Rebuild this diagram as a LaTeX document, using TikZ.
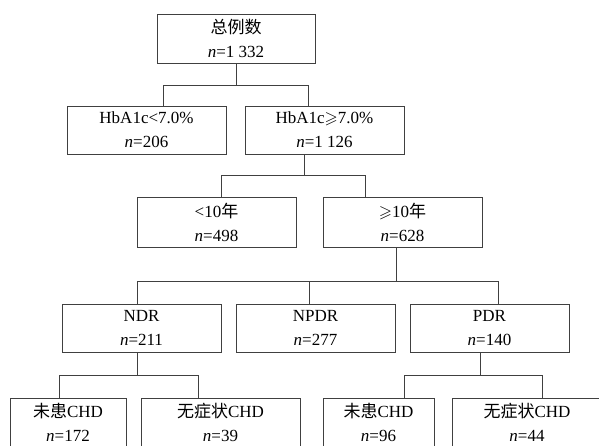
\documentclass[tikz,border=0pt]{standalone}
\usepackage{amsmath, amssymb}
\usepackage{fontspec}
\setmainfont{Liberation Serif}
\newfontfamily\cjk{Noto Sans CJK SC}
\usetikzlibrary{positioning, calc}

\begin{document}
\begin{tikzpicture}[
      x=1pt, y=-1pt,
      block/.style={rectangle, draw=black!75, line width=1pt,
                    minimum width=159pt, minimum height=48pt, inner sep=0pt,
                    align=center, font=\fontsize{17}{24}\selectfont},
      link/.style={draw=black!75, line width=1pt}
    ]
        \useasboundingbox (0,0) rectangle (599,445);
        \clip (0,0) rectangle (599,445);
        \node[block, minimum width=158pt, minimum height=49pt] (total) at (236,38.5) {{\cjk 总例数}\\\textit{n}=1 332};
        \node[block] (hblow) at (146.5,130) {HbA1c<7.0\%\\\textit{n}=206};
        \node[block] (hbhigh) at (324.5,130) {HbA1c$\geqslant$7.0\%\\\textit{n}=1 126};
        \node[block, minimum height=50pt] (short) at (216.5,222) {<10{\cjk 年}\\\textit{n}=498};
        \node[block, minimum height=50pt] (long) at (402.5,222) {$\geqslant$10{\cjk 年}\\\textit{n}=628};
        \node[block] (ndr) at (141.5,328) {NDR\\\textit{n}=211};
        \node[block] (npdr) at (315.5,328) {NPDR\\\textit{n}=277};
        \node[block] (pdr) at (489.5,328) {PDR\\\textit{n}=140};
        \node[block, minimum width=116pt, minimum height=49pt] (ndrno) at (68,422.5) {{\cjk 未患}CHD\\\textit{n}=172};
        \node[block, minimum height=49pt] (ndrsil) at (220.5,422.5) {{\cjk 无症状}CHD\\\textit{n}=39};
        \node[block, minimum width=111pt, minimum height=49pt] (pdrno) at (378.5,422.5) {{\cjk 未患}CHD\\\textit{n}=96};
        \node[block, minimum width=150pt, minimum height=49pt] (pdrsil) at (527,422.5) {{\cjk 无症状}CHD\\\textit{n}=44};
        \draw[link] (total.south) -- ++(0,22) coordinate (bus1);
        \draw[link] ([xshift=16.5pt]hblow.north) |- (bus1) -| ([xshift=-16.5pt]hbhigh.north);
        \draw[link] ([xshift=-20.5pt]hbhigh.south) -- ++(0,21) coordinate (bus2);
        \draw[link] ([xshift=4.5pt]short.north) |- (bus2) -| ([xshift=-37.5pt]long.north);
        \draw[link] ([xshift=-6.5pt]long.south) -- ++(0,34) coordinate (bus3);
        \draw[link] ([xshift=-4.5pt]ndr.north) |- (bus3) -| ([xshift=8.5pt]pdr.north);
        \draw[link] ([xshift=-6.5pt]npdr.north) -- ([xshift=-6.5pt]npdr.north |- bus3);
        \draw[link] ([xshift=-4.5pt]ndr.south) -- ++(0,23) coordinate (bus4);
        \draw[link] ([xshift=-9pt]ndrno.north) |- (bus4) -| ([xshift=-22.5pt]ndrsil.north);
        \draw[link] ([xshift=-9.5pt]pdr.south) -- ++(0,23) coordinate (bus5);
        \draw[link] ([xshift=25.5pt]pdrno.north) |- (bus5) -| ([xshift=15pt]pdrsil.north);
    \end{tikzpicture}
\end{document}
